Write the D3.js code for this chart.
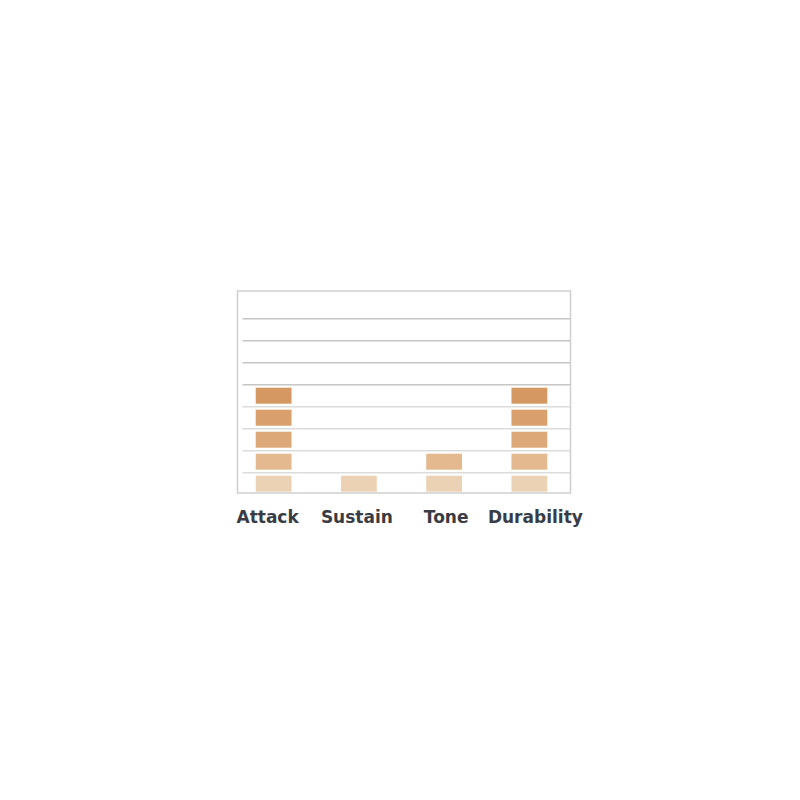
<!DOCTYPE html>
<html>
<head>
<meta charset="utf-8">
<script src="https://cdn.jsdelivr.net/npm/d3@7"></script>
<style>
  body { margin: 0; background: #fff; }
</style>
</head>
<body>
<div id="chart"></div>
<script>
// ratings, one box per point
var categories = ["Attack", "Sustain", "Tone", "Durability"];
var ratings = [5, 1, 2, 5];
var gridLevels = [1, 2, 3, 4, 5, 6, 7, 8];
var shades = ["#ecd2b4", "#e4b98f", "#dda878", "#d99f6c", "#d69862"];

var svg = d3.select("#chart").append("svg")
  .attr("width", 800)
  .attr("height", 800);

var box = { left: 237.5, right: 570.5, top: 291, bottom: 493 };

var x = d3.scaleBand()
  .domain(categories)
  .range([231, 572])
  .paddingInner(0.58)
  .paddingOuter(0.29);

// labels are spread a little wider than the bars
var xLabel = d3.scalePoint()
  .domain(categories)
  .range([223, 580])
  .padding(0.5);

// one unit = 22px, level 0 sits a bit below the frame bottom
var y = d3.scaleLinear()
  .domain([0, 8])
  .range([494.7, 318.7]);

// grid lines
svg.append("g")
  .selectAll("line")
  .data(gridLevels)
  .enter().append("line")
  .attr("x1", box.left + 5)
  .attr("x2", box.right)
  .attr("y1", function (d) { return y(d); })
  .attr("y2", function (d) { return y(d); })
  .attr("stroke", function (d) { return d > 4 ? "#c6c6c6" : "#dcdcdc"; })
  .attr("stroke-width", 1.6);

// frame
svg.append("rect")
  .attr("x", box.left)
  .attr("y", box.top)
  .attr("width", box.right - box.left)
  .attr("height", box.bottom - box.top)
  .attr("fill", "none")
  .attr("stroke", "#cfcfcf")
  .attr("stroke-width", 1.5);

// stacked boxes
var bars = svg.append("g")
  .selectAll("g")
  .data(categories)
  .enter().append("g");

bars.selectAll("rect")
  .data(function (d, i) { return d3.range(ratings[i]); })
  .enter().append("rect")
  .attr("x", function () { return x(d3.select(this.parentNode).datum()); })
  .attr("width", x.bandwidth())
  .attr("y", function (k) { return y(k + 1) + 3; })
  .attr("height", function (k) { return Math.min(y(k) - y(k + 1) - 6, box.bottom - 0.8 - (y(k + 1) + 3)); })
  .attr("fill", function (k) { return shades[k]; });

// category labels
svg.append("g")
  .selectAll("text")
  .data(categories)
  .enter().append("text")
  .attr("x", function (d) { return xLabel(d); })
  .attr("y", 523)
  .attr("text-anchor", "middle")
  .attr("font-family", "DejaVu Sans")
  .attr("font-weight", "bold")
  .attr("font-size", 17)
  .attr("fill", "#393c44")
  .text(function (d) { return d; });
</script>
</body>
</html>
